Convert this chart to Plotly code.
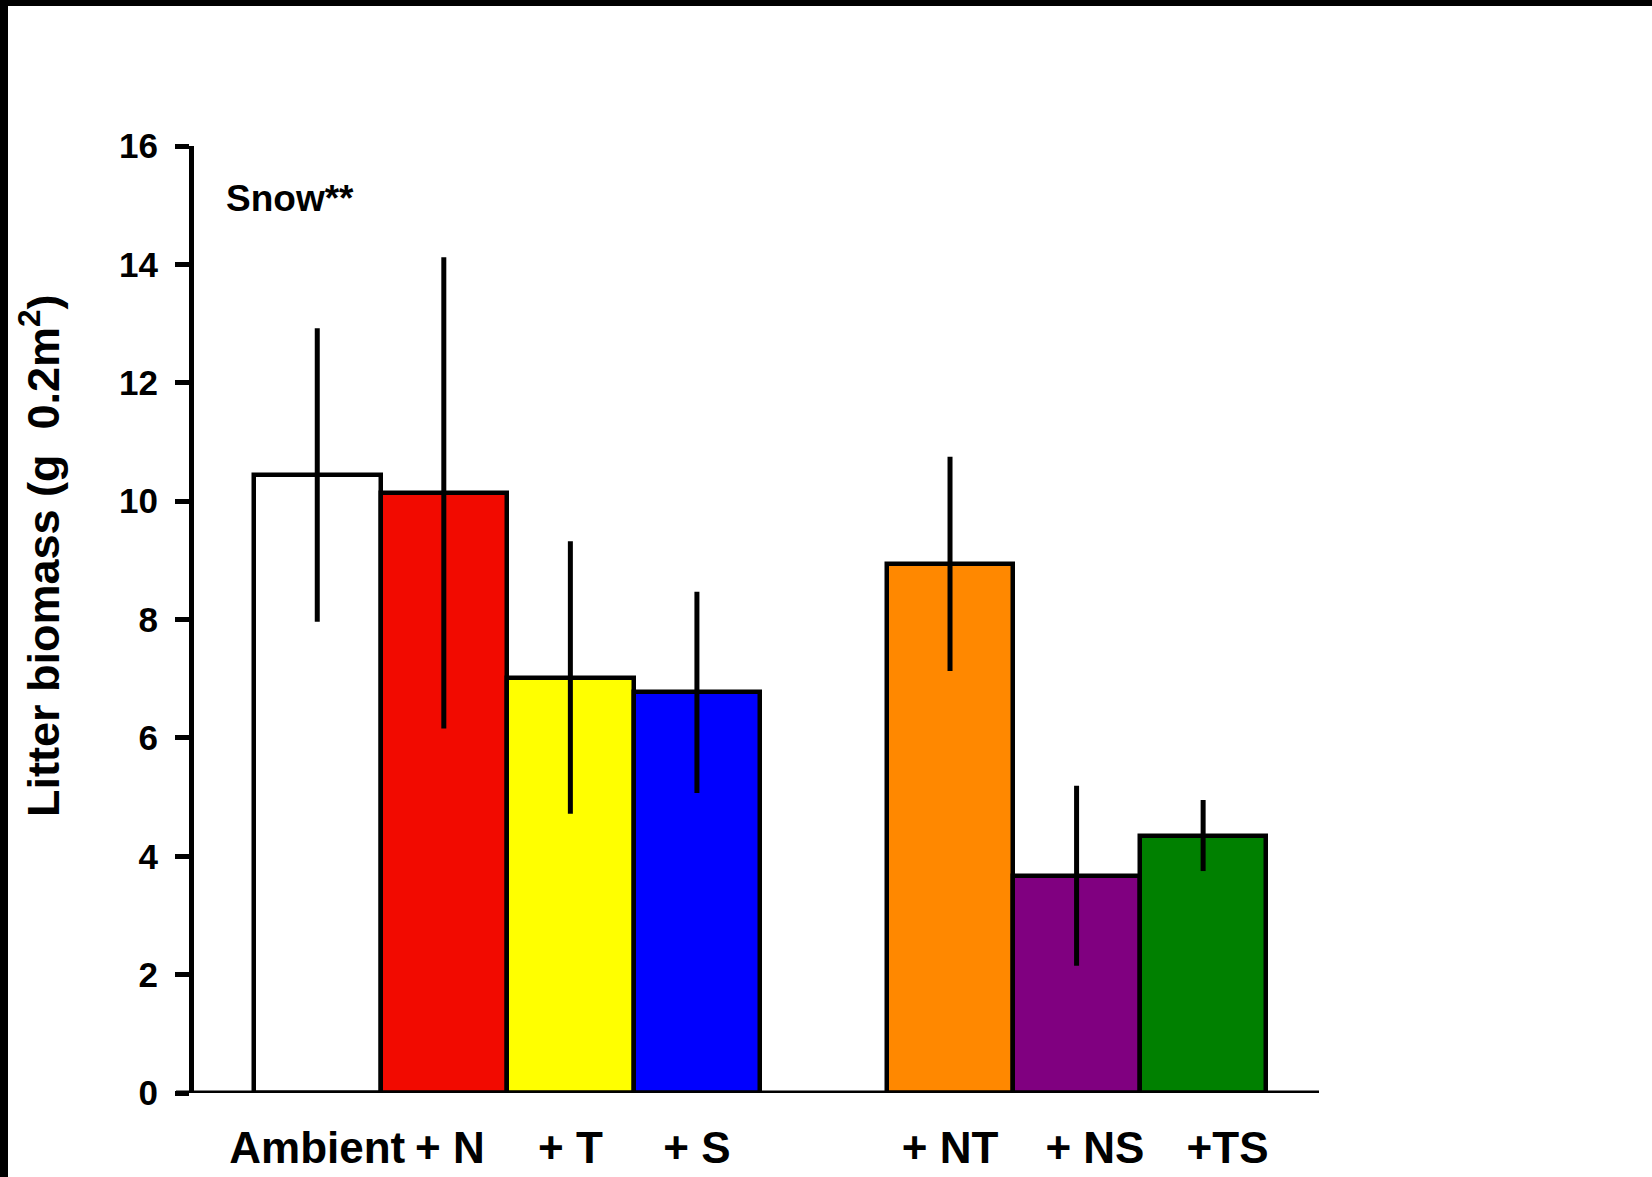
import plotly.graph_objects as go

# ---- data ----
treatments = ["Ambient", "+ N", "+ T", "+ S", "+ NT", "+ NS", "+TS"]
litter_mean = [10.44, 10.14, 7.02, 6.77, 8.94, 3.67, 4.35]
litter_se = [2.48, 3.98, 2.30, 1.70, 1.81, 1.52, 0.60]
bar_colors = ["#FFFFFF", "#F20A00", "#FFFF00", "#0000FF", "#FF8800", "#800080", "#008000"]
group_sizes = [4, 3]
y_ticks = [0, 2, 4, 6, 8, 10, 12, 14, 16]
annotation_text = "Snow**"
y_title = "Litter biomass (g  0.2m<sup>2</sup>)"

# positions: groups separated by one empty slot
positions = []
start = 0
for n in group_sizes:
    positions += list(range(start, start + n))
    start += n + 1

# small label nudges (non-breaking spaces) to mimic original placement
pads = {"+ N": ("\u00a0", ""), "+ NS": ("\u00a0\u00a0\u00a0", ""),
        "+TS": ("\u00a0\u00a0\u00a0\u00a0", "")}
tick_text = [pads.get(t, ("", ""))[0] + t + pads.get(t, ("", ""))[1] for t in treatments]

FONT = "Arial, 'Liberation Sans', sans-serif"
PLOT_W = 1125

fig = go.Figure()
fig.add_trace(go.Bar(
    x=positions,
    y=litter_mean,
    width=1.0,
    marker=dict(color=bar_colors, line=dict(color="black", width=4.5)),
    error_y=dict(type="data", array=litter_se, visible=True, color="black", thickness=5, width=0),
    showlegend=False,
))

fig.update_layout(
    width=1652, height=1177,
    margin=dict(l=194, r=333, t=146, b=84, pad=0),
    paper_bgcolor="white", plot_bgcolor="white",
    bargap=0,
    font=dict(family=FONT, color="black"),
    xaxis=dict(
        range=[-0.974, 7.9156],
        tickmode="array", tickvals=positions, ticktext=tick_text,
        tickangle=0,
        ticks="", showline=False, showgrid=False, zeroline=False,
        tickfont=dict(family=FONT, size=44, weight="bold", color="black"),
        ticklabelstandoff=25,
        automargin=False,
    ),
    yaxis=dict(
        range=[0, 16],
        tickmode="array", tickvals=y_ticks,
        ticks="outside", ticklen=14, tickwidth=5, tickcolor="black",
        showline=True, linewidth=5, linecolor="black",
        showgrid=False, zeroline=False,
        tickfont=dict(family=FONT, size=35, weight="bold", color="black"),
        ticklabelstandoff=10,
        automargin=False,
    ),
    annotations=[
        dict(text=annotation_text, xref="paper", yref="paper", x=30 / PLOT_W, y=0.945,
             xanchor="left", yanchor="middle", showarrow=False,
             font=dict(family=FONT, size=37, weight="bold", color="black")),
        dict(text=y_title, xref="paper", yref="paper", x=(40 - 194) / PLOT_W, y=0.567,
             xanchor="center", yanchor="middle", textangle=-90, showarrow=False,
             font=dict(family=FONT, size=45, weight="bold", color="black")),
    ],
    shapes=[
        # x-axis baseline (extends slightly left of the y axis like the original)
        dict(type="line", xref="paper", yref="y", x0=-18 / PLOT_W, x1=1.0, y0=0, y1=0,
             line=dict(color="black", width=5), layer="above"),
        # black frame bands at top and left edges of the image
        dict(type="rect", xref="paper", yref="paper", x0=-0.3, x1=1.4, y0=(1093 - 6) / 947, y1=1.3,
             fillcolor="black", line=dict(width=0), layer="above"),
        dict(type="rect", xref="paper", yref="paper", x0=-0.3, x1=(8 - 194) / PLOT_W, y0=-0.2, y1=1.3,
             fillcolor="black", line=dict(width=0), layer="above"),
    ],
)

fig.write_html("out.html")
